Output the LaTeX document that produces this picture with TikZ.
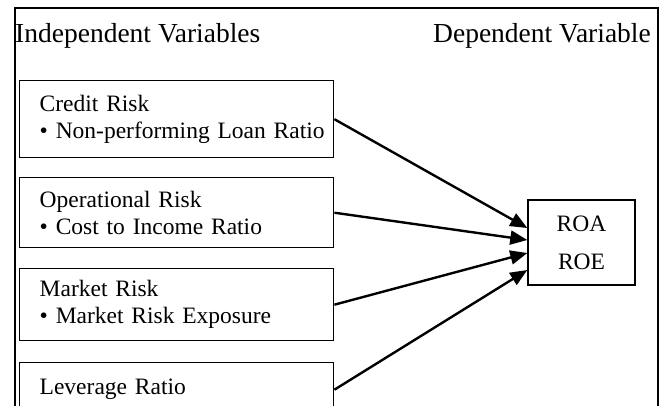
\documentclass[tikz,border=0pt]{standalone}
\usepackage{fontspec}
\setmainfont{Liberation Serif}
\usetikzlibrary{arrows.meta,calc}
\newcommand{\titlefont}{\fontsize{27.5}{30}\selectfont}
\newcommand{\bodyfont}{\fontsize{23.5}{27}\selectfont}
\begin{document}
\begin{tikzpicture}[x=1pt,y=-1pt,
  varbox/.style={draw, line width=1.4pt, text width=274pt, inner xsep=20pt, inner ysep=0pt, align=left, font=\bodyfont, anchor=north west},
  depbox/.style={draw, line width=1.4pt, minimum width=107pt, minimum height=85pt, align=center, font=\fontsize{23.5}{38}\selectfont},
  link/.style={line width=2.4pt, -{Triangle[length=17pt,width=14pt]}},
  heading/.style={inner sep=0pt, font=\titlefont}]
\useasboundingbox (0,0) rectangle (665,405);
\fill[white] (0,0) rectangle (665,405);
\draw[line width=2pt] (15,430) -- (15,8) -- (658,8) -- (658,430);
\node[heading, anchor=base west] (ind) at (15,42) {Independent Variables};
\node[heading, anchor=base east] (dep) at (651,42) {Dependent Variable};
\node[varbox, minimum height=77pt] (credit) at (19,80) {Credit Risk\\\mbox{• Non-performing Loan Ratio}};
\node[varbox, minimum height=70pt] (oper) at (19,177) {Operational Risk\\\mbox{• Cost to Income Ratio}};
\node[varbox, minimum height=72pt] (market) at (19,268) {Market Risk\\\mbox{• Market Risk Exposure}};
\node[varbox, minimum height=54pt] (lev) at (19,362) {Leverage Ratio};
\node[depbox] (roa) at (581.5,242.5) {ROA\\ROE};
\draw[link] (credit.east) -- ($(roa.west)+(0,-14.5)$);
\draw[link] (oper.east) -- ($(roa.west)+(0,-2.5)$);
\draw[link] (market.east) -- ($(roa.west)+(0,10.5)$);
\draw[link] (lev.east) -- ($(roa.west)+(0,27.5)$);
\end{tikzpicture}
\end{document}
